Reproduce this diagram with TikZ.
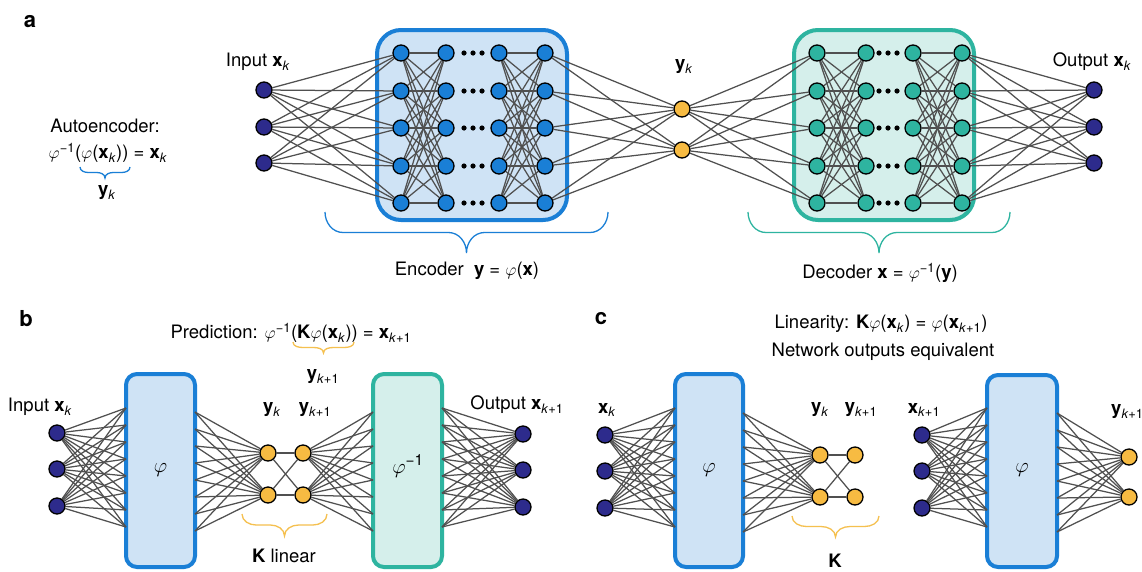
\documentclass[tikz,border=0pt]{standalone}
\usepackage{fontspec}
\setmainfont{TeX Gyre Heros}
\pgfdeclarelayer{bg}
\pgfdeclarelayer{lines}
\pgfsetlayers{bg,lines,main}
\definecolor{inblue}{HTML}{2D2B8C}
\definecolor{encblue}{HTML}{1A7FD6}
\definecolor{encfill}{HTML}{CFE3F5}
\definecolor{decteal}{HTML}{2EB4A0}
\definecolor{decfill}{HTML}{D5EFEB}
\definecolor{latorange}{HTML}{F7BB42}
\definecolor{braceorange}{HTML}{F5C04F}
\definecolor{linegray}{HTML}{505050}
\newcommand{\vphi}{\ensuremath{\varphi}}
\newcommand{\xk}{\textbf{x}\textsubscript{\textit{k}}}
\newcommand{\xkk}{\textbf{x}\textsubscript{\textit{k}+1}}
\newcommand{\yk}{\textbf{y}\textsubscript{\textit{k}}}
\newcommand{\ykk}{\textbf{y}\textsubscript{\textit{k}+1}}
\newcommand{\inv}{\textsuperscript{−1}}
% brace: x1, x2, ytop, ytip, colour
\newcommand{\mybrace}[5]{%
  \pgfmathsetmacro{\bxm}{(#1+#2)/2}%
  \pgfmathsetmacro{\bym}{(#3+#4)/2}%
  \pgfmathsetmacro{\brr}{min(18,(#2-#1)/6)}%
  \draw[#5,line width=1.3pt]
    (#1,#3) to[out=-90,in=180] ({#1+\brr},\bym) -- ({\bxm-\brr},\bym)
    to[out=0,in=90] (\bxm,#4) to[out=90,in=180] ({\bxm+\brr},\bym)
    -- ({#2-\brr},\bym) to[out=0,in=-90] (#2,#3);}
\tikzset{
  neuron/.style={circle,draw=black,line width=1.3pt,minimum size=16pt,inner sep=0pt},
  inp/.style={neuron,fill=inblue},
  enc/.style={neuron,fill=encblue},
  dec/.style={neuron,fill=decteal},
  lat/.style={neuron,fill=latorange},
  conn/.style={draw=linegray,line width=1.25pt},
  encbox/.style={draw=encblue,fill=encfill,line width=4pt,rounded corners=24pt},
  decbox/.style={draw=decteal,fill=decfill,line width=4pt,rounded corners=24pt},
  phibox/.style={draw=encblue,fill=encfill,line width=4pt,rounded corners=11pt},
  invbox/.style={draw=decteal,fill=decfill,line width=4pt,rounded corners=11pt},
  txt/.style={inner sep=1pt},
  boxlabel/.style={font=\fontsize{22}{24}\selectfont},
  panel/.style={font=\fontsize{22}{24}\selectfont\bfseries}
}
\begin{document}
\begin{tikzpicture}[x=1pt,y=-1pt,font=\fontsize{18.5}{21}\selectfont]
\useasboundingbox (0,0) rectangle (1142,571);
\begin{pgfonlayer}{bg}
\fill[white] (0,0) rectangle (1142,571);
\end{pgfonlayer}

% ================= panel a =================
\node[panel] (la) at (30,22) {a};
\node[txt] (autot) at (105,126) {Autoencoder:};
\node[txt] (autof) at (108,153) {\vphi\inv(\vphi(\xk)) = \xk};
\mybrace{80}{130}{167}{178}{encblue}
\node[txt] (autoy) at (107,193) {\yk};

\begin{pgfonlayer}{bg}
\node[encbox,minimum width=190pt,minimum height=190pt] (encb) at (472,125) {};
\node[decbox,minimum width=180pt,minimum height=190pt] (decb) at (884,125) {};
\end{pgfonlayer}

\foreach \i/\y in {1/90,2/127,3/163} {
  \node[inp] (ia\i) at (264,\y) {};
  \node[inp] (oa\i) at (1094,\y) {};
}
\node[txt] (lin) at (258,62) {Input \xk};
\node[txt] (lout) at (1092,62) {Output \xk};

\foreach \c/\x in {1/401,2/446,3/499,4/545}
  \foreach \r/\y in {1/53,2/91,3/128,4/166,5/203}
    \node[enc] (e\c\r) at (\x,\y) {};
\foreach \c/\x in {1/817,2/866,3/913,4/962}
  \foreach \r/\y in {1/53,2/91,3/128,4/166,5/203}
    \node[dec] (d\c\r) at (\x,\y) {};
\foreach \y in {53,91,128,166,203} {
  \foreach \dx in {464,473,482} \fill (\dx,\y) circle (2.6);
  \foreach \dx in {879,888,897} \fill (\dx,\y) circle (2.6);
}
\node[lat] (ya1) at (682,109) {};
\node[lat] (ya2) at (682,150) {};
\node[txt] (lya) at (684,67) {\yk};

\begin{pgfonlayer}{lines}
\foreach \i in {1,2,3} \foreach \j in {1,...,5} {
  \draw[conn] (ia\i) -- (e1\j);
  \draw[conn] (d4\j) -- (oa\i);
}
\foreach \i in {1,...,5} \foreach \j in {1,...,5} {
  \draw[conn] (e1\i) -- (e2\j);
  \draw[conn] (e3\i) -- (e4\j);
  \draw[conn] (d1\i) -- (d2\j);
  \draw[conn] (d3\i) -- (d4\j);
}
\foreach \i in {1,...,5} \foreach \j in {1,2} {
  \draw[conn] (e4\i) -- (ya\j);
  \draw[conn] (ya\j) -- (d1\i);
}
\end{pgfonlayer}

\mybrace{325}{608}{212}{253}{encblue}
\mybrace{748}{1010}{212}{253}{decteal}
\node[txt] (lenc) at (467,271) {Encoder\ \ \textbf{y} = \vphi(\textbf{x})};
\node[txt] (ldec) at (880,273) {Decoder\ \textbf{x} = \vphi\inv(\textbf{y})};

% ================= panel b =================
\node[panel] (lb) at (26,319) {b};
\node[txt] (pred) at (291,333) {Prediction: \vphi\inv(\textbf{K}\vphi(\xk)) = \xkk};
\mybrace{293}{354}{342}{353}{braceorange}

\begin{pgfonlayer}{bg}
\node[phibox,minimum width=69pt,minimum height=193pt] (pb1) at (160.5,470.5) {};
\node[invbox,minimum width=69pt,minimum height=193pt] (pb2) at (407.5,470.5) {};
\end{pgfonlayer}
\node[boxlabel] (phib) at (160.5,470) {\vphi};
\node[boxlabel] (phiinvb) at (408,466) {\vphi\inv};

\foreach \i/\y in {1/433,2/469,3/506} {
  \node[inp] (ib\i) at (57,\y) {};
  \node[inp] (ob\i) at (523,\y+1) {};
}
\node[txt] (linb) at (40,407) {Input \xk};
\node[txt] (loutb) at (517,405) {Output \xkk};

\foreach \k in {1,...,8} {
  \pgfmathsetmacro{\ya}{408+17*(\k-1)}
  \pgfmathsetmacro{\yb}{412+17*(\k-1)}
  \coordinate (bl\k) at (126,\ya);
  \coordinate (br\k) at (195,\yb);
  \coordinate (cl\k) at (373,\yb);
  \coordinate (cr\k) at (442,\ya);
}
\node[lat] (yb1) at (268,453) {};
\node[lat] (yb2) at (268,495) {};
\node[lat] (yb3) at (303,453) {};
\node[lat] (yb4) at (303,495) {};
\node[txt] (lyb1) at (272,410) {\yk};
\node[txt] (lyb2) at (315,410) {\ykk};
\node[txt] (lyb3) at (323,377) {\ykk};

\begin{pgfonlayer}{lines}
\foreach \k in {1,...,8} {
  \foreach \i in {1,2,3} {
    \draw[conn] (ib\i) -- (bl\k);
    \draw[conn] (cr\k) -- (ob\i);
  }
  \draw[conn] (br\k) -- (yb1);
  \draw[conn] (br\k) -- (yb2);
  \draw[conn] (yb3) -- (cl\k);
  \draw[conn] (yb4) -- (cl\k);
}
\draw[conn] (yb1) -- (yb3);
\draw[conn] (yb2) -- (yb4);
\draw[conn] (yb1) -- (yb4);
\draw[conn] (yb2) -- (yb3);
\end{pgfonlayer}
\mybrace{242}{327}{514}{536}{braceorange}
\node[txt] (klin) at (284,556) {\textbf{K} linear};

% ================= panel c =================
\node[panel] (lc) at (601,319) {c};
\node[txt] (linr) at (881,324) {Linearity: \textbf{K}\vphi(\xk) = \vphi(\xkk)};
\node[txt] (netw) at (883,352) {Network outputs equivalent};

\begin{pgfonlayer}{bg}
\node[phibox,minimum width=68pt,minimum height=193pt] (pc1) at (709,470.5) {};
\node[phibox,minimum width=70pt,minimum height=192pt] (pc2) at (1022,471) {};
\end{pgfonlayer}
\node[boxlabel] (phic1) at (709,470) {\vphi};
\node[boxlabel] (phic2) at (1022,470) {\vphi};

\foreach \i/\y in {1/435,2/471,3/508} {
  \node[inp] (xc\i) at (605,\y) {};
  \node[inp] (xd\i) at (922,\y) {};
}
\node[txt] (lxc) at (607,410) {\xk};
\node[txt] (lxd) at (924,410) {\xkk};

\foreach \k in {1,...,8} {
  \pgfmathsetmacro{\ya}{408+17*(\k-1)}
  \pgfmathsetmacro{\yb}{413+17*(\k-1)}
  \coordinate (ql\k) at (675,\ya);
  \coordinate (qr\k) at (743,\yb);
  \coordinate (sl\k) at (987,\ya);
  \coordinate (sr\k) at (1057,\yb);
}
\node[lat] (yc1) at (820,455) {};
\node[lat] (yc2) at (820,497) {};
\node[lat] (yc3) at (855,455) {};
\node[lat] (yc4) at (855,497) {};
\node[lat] (ye1) at (1129,457) {};
\node[lat] (ye2) at (1129,497) {};
\node[txt] (lyc1) at (820,410) {\yk};
\node[txt] (lyc2) at (861,410) {\ykk};
\node[txt,anchor=west] (lye) at (1110,412) {\ykk};

\begin{pgfonlayer}{lines}
\foreach \k in {1,...,8} {
  \foreach \i in {1,2,3} {
    \draw[conn] (xc\i) -- (ql\k);
    \draw[conn] (xd\i) -- (sl\k);
  }
  \draw[conn] (qr\k) -- (yc1);
  \draw[conn] (qr\k) -- (yc2);
  \draw[conn] (sr\k) -- (ye1);
  \draw[conn] (sr\k) -- (ye2);
}
\draw[conn] (yc1) -- (yc3);
\draw[conn] (yc2) -- (yc4);
\draw[conn] (yc1) -- (yc4);
\draw[conn] (yc2) -- (yc3);
\end{pgfonlayer}
\mybrace{792}{879}{516}{537}{braceorange}
\node[txt] (kc) at (835,561) {\textbf{K}};
\end{tikzpicture}
\end{document}
